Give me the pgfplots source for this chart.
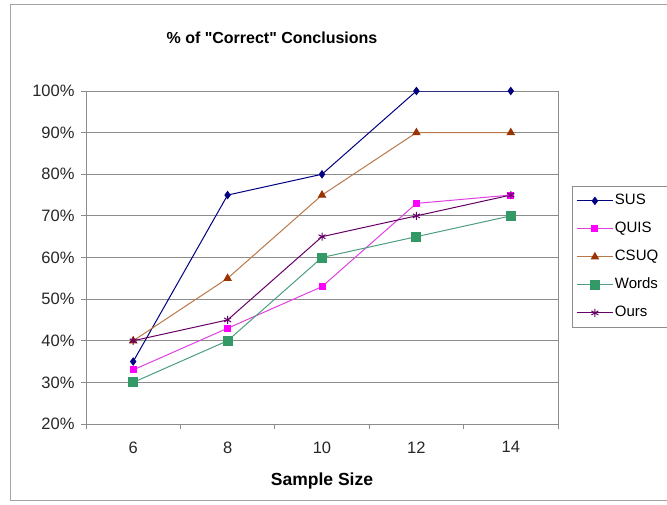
\documentclass[border=0pt]{standalone}
\usepackage{pgfplots}
\pgfplotsset{compat=1.18}
\usepackage{fontspec}
\setmainfont{Liberation Sans}
\definecolor{susc}{HTML}{000080}
\definecolor{quisc}{HTML}{FF00FF}
\definecolor{quisl}{HTML}{E040E0}
\definecolor{csuqc}{HTML}{993300}
\definecolor{csuql}{HTML}{B8784A}
\definecolor{wordsc}{HTML}{339966}
\definecolor{wordsl}{HTML}{4C9E7E}
\definecolor{oursc}{HTML}{660066}
\definecolor{gridc}{HTML}{8C8C8C}
\begin{document}
\begin{tikzpicture}[x=1pt,y=1pt]
\useasboundingbox (0,0) rectangle (667,504);
\clip (0,0) rectangle (667,504);
\draw[gridc!80, line width=1pt] (10,4) rectangle (700,499);
\node[font=\fontsize{16}{19}\selectfont\bfseries] at (272,466) {\% of \textquotedbl Correct\textquotedbl\ Conclusions};
\begin{axis}[
  at={(86pt,80pt)}, anchor=south west,
  scale only axis, width=472pt, height=333pt,
  xmin=5, xmax=15, ymin=20, ymax=100,
  xtick={6,8,10,12,14},
  minor xtick={5,7,9,11,13,15},
  ytick={20,30,...,100},
  yticklabel={\pgfmathprintnumber{\tick}\%},
  /pgf/number format/assume math mode=true,
  ymajorgrids, grid style={gridc, line width=0.8pt},
  axis line style={gridc, line width=0.8pt},
  major tick style={gridc, line width=0.8pt},
  minor tick style={gridc, line width=0.8pt},
  xtick style={draw=none},
  minor x tick style={draw=gridc},
  tick align=outside,
  major tick length=5pt, minor tick length=5pt,
  xtick pos=bottom, ytick pos=left,
  ticklabel style={font=\fontsize{16.5}{19}\selectfont, text=black!85},
  xticklabel style={yshift=-9pt},
  yticklabel style={xshift=-3pt},
  xlabel={Sample Size},
  xlabel style={font=\fontsize{17.5}{20}\selectfont\bfseries, yshift=-13pt},
  legend style={at={(1.0297,0.7147)}, anchor=north west, draw=gridc, line width=0.8pt,
    fill=white, font=\fontsize{15}{18}\selectfont, row sep=11pt,
    inner xsep=4pt, inner ysep=6pt,
    nodes={inner sep=1.5pt, text height=11pt, text depth=3pt, anchor=west, text width=62pt, xshift=4pt}},
  legend cell align=left,
  legend image code/.code={
    \draw[#1] (-4pt,0pt) -- (32pt,0pt);
    \draw[#1, only marks] plot coordinates {(14pt,0pt)};
  },
]
\addplot[susc, line width=1pt, mark=diamond*, mark size=3.5pt, mark options={solid, fill=susc}]
  coordinates {(6,35) (8,75) (10,80) (12,100) (14,100)};
\addlegendentry{SUS}
\addplot[quisl, line width=1pt, mark=square*, mark size=3pt, mark options={solid, draw=quisc, fill=quisc}]
  coordinates {(6,33) (8,43) (10,53) (12,73) (14,75)};
\addlegendentry{QUIS}
\addplot[csuql, line width=1pt, mark=triangle*, mark size=4pt, mark options={solid, draw=csuqc, fill=csuqc}]
  coordinates {(6,40) (8,55) (10,75) (12,90) (14,90)};
\addlegendentry{CSUQ}
\addplot[wordsl, line width=1pt, mark=square*, mark size=4.5pt, mark options={solid, draw=wordsc, fill=wordsc}]
  coordinates {(6,30) (8,40) (10,60) (12,65) (14,70)};
\addlegendentry{Words}
\addplot[oursc, line width=1pt, mark=asterisk, mark size=4pt, mark options={solid, draw=oursc, line width=1pt}]
  coordinates {(6,40) (8,45) (10,65) (12,70) (14,75)};
\addlegendentry{Ours}
\end{axis}
\end{tikzpicture}
\end{document}
